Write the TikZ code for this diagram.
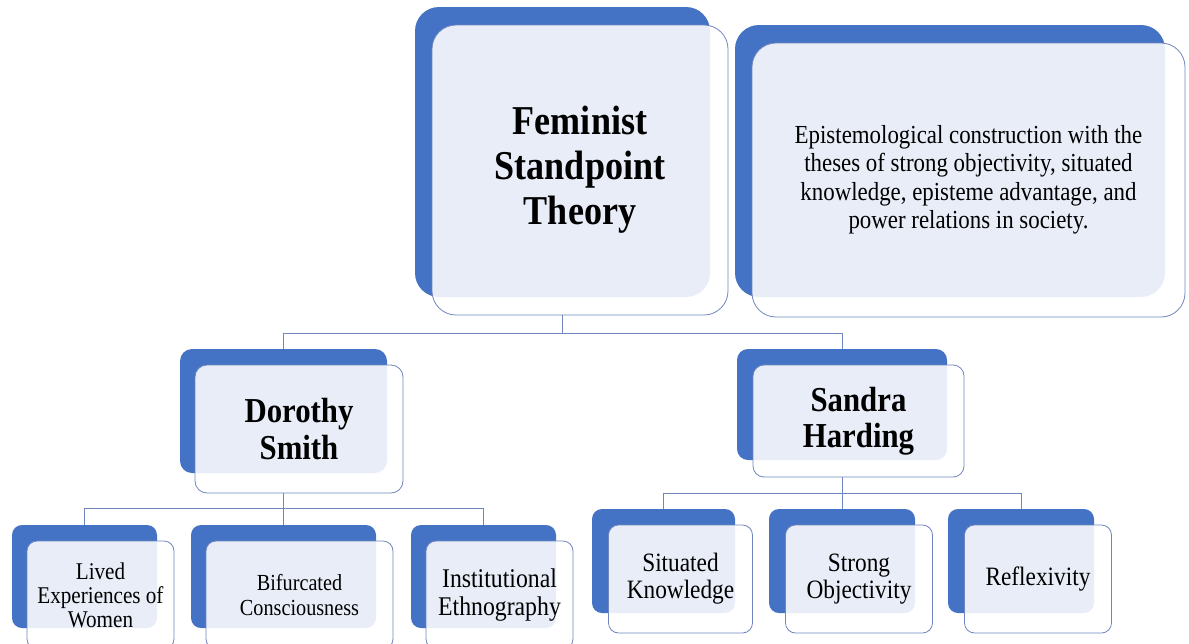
\documentclass[tikz,border=0pt]{standalone}
\usepackage{fontspec}
\setmainfont{Liberation Serif}[FakeStretch=0.88]
\definecolor{boxblue}{RGB}{68,114,196}
\definecolor{edgeblue}{RGB}{112,134,190}
\begin{document}
\begin{tikzpicture}[x=1pt, y=-1pt,
        backbox/.style={fill=boxblue, inner sep=0pt, rounded corners=#1},
        frontbox/.style={draw=edgeblue, line width=.8pt, fill=white, fill opacity=.88, text opacity=1,
            inner sep=0pt, align=center, rounded corners=#1},
        link/.style={draw=edgeblue, line width=.9pt}]
        \useasboundingbox (0,0) rectangle (1189,643);

        % theory and its summary
        \node[backbox=24pt, minimum width=295pt, minimum height=290pt] (fst-back) at (562.5,152) {};
        \node[frontbox=24pt, minimum width=296pt, minimum height=290pt, font=\fontsize{41}{45}\selectfont\bfseries] (fst) at (580,170) {Feminist\\Standpoint\\Theory};
        \node[backbox=24pt, minimum width=430pt, minimum height=272pt] (epi-back) at (950,161) {};
        \node[frontbox=24pt, minimum width=433pt, minimum height=274pt, font=\fontsize{26}{28.5}\selectfont] (epi) at (968.5,180) {Epistemological construction with the\\theses of strong objectivity, situated\\knowledge, episteme advantage, and\\power relations in society.};

        % the two authors
        \node[backbox=12pt, minimum width=207pt, minimum height=124pt] (ds-back) at (283.5,411) {};
        \node[frontbox=12pt, minimum width=208pt, minimum height=128pt, font=\fontsize{35}{37}\selectfont\bfseries] (ds) at (299,429) {Dorothy\\Smith};
        \node[backbox=11pt, minimum width=210pt, minimum height=111pt] (sh-back) at (842,404.5) {};
        \node[frontbox=11pt, minimum width=211pt, minimum height=112pt, font=\fontsize{35}{36}\selectfont\bfseries] (sh) at (858.5,421) {Sandra\\Harding};

        % Smith
        \foreach \n/\x/\w/\fs/\sk/\txt in {lew/84.5/145/24/24/{Lived\\Experiences of\\Women}, bc/283.5/185/23/25/{Bifurcated\\Consciousness}, ie/483.5/145/27/28/{Institutional\\Ethnography}} {
            \node[backbox=10pt, minimum width=\w pt, minimum height=103pt] (\n-back) at (\x,576.5) {};
            \node[frontbox=10pt, minimum width=\w pt+2pt, minimum height=108pt, font=\fontsize{\fs}{\sk}\selectfont] (\n) at (\x+16,595) {\txt};
        }

        % Harding
        \foreach \n/\x/\w/\txt in {sk/663.5/143/{Situated\\Knowledge}, so/842/146/{Strong\\Objectivity}, rx/1021/146/{Reflexivity}} {
            \node[backbox=10pt, minimum width=\w pt, minimum height=104pt] (\n-back) at (\x,561) {};
            \node[frontbox=10pt, minimum width=\w pt+1pt, minimum height=108pt, font=\fontsize{26.5}{27}\selectfont] (\n) at (\x+17,579) {\txt};
        }

        % tree lines
        \coordinate (top) at (562.5,333);
        \coordinate (left) at (283.5,508);
        \coordinate (right) at (842,493);
        \draw[link] (fst-back.south |- fst.south) -- (top) -| (ds-back.north);
        \draw[link] (top) -| (sh-back.north);
        \draw[link] (ds-back.south |- ds.south) -- (left) -| (lew-back.north);
        \draw[link] (left) -| (bc-back.north);
        \draw[link] (left) -| (ie-back.north);
        \draw[link] (sh-back.south |- sh.south) -- (right) -| (sk-back.north);
        \draw[link] (right) -| (so-back.north);
        \draw[link] (right) -| (rx-back.north);

    \end{tikzpicture}
\end{document}
